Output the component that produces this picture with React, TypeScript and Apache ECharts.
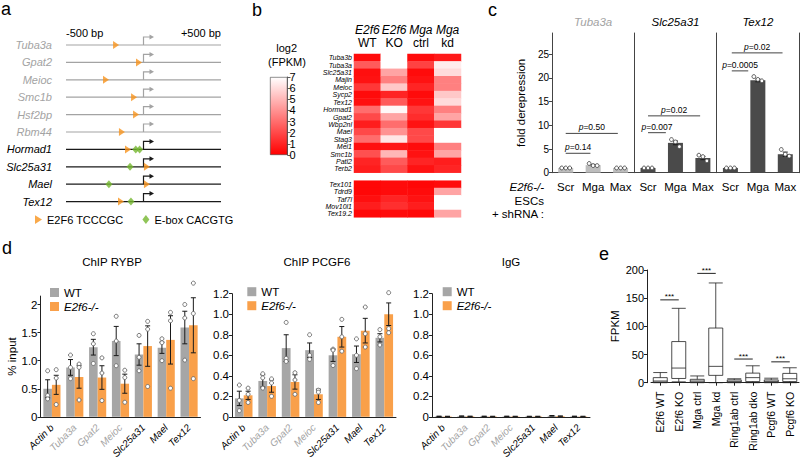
import React, { useEffect, useRef } from "react";
import * as echarts from "echarts";

const FF = '"Liberation Sans", Arial, Helvetica, sans-serif';
const GREY_TXT = "#a3a3a3";

// ---------- Panel a: promoter motif map ----------
const genesA = ["Tuba3a", "Gpat2", "Meioc", "Smc1b", "Hsf2bp", "Rbm44", "Hormad1", "Slc25a31", "Mael", "Tex12"];
const greyGenesA = ["Tuba3a", "Gpat2", "Meioc", "Smc1b", "Hsf2bp", "Rbm44"];
const bpRange = [-500, 500];
const bpTickLabels = ["-500 bp", "+500 bp"];
const motifNames = ["E2F6 TCCCGC", "E-box CACGTG"];
// [position (bp from TSS), gene row]
const e2f6Sites = [[-177, 0], [-29, 1], [-242, 2], [-61, 3], [-48, 4], [-139, 5], [-100, 6], [22, 7], [22, 8], [-145, 9]];
const eboxSites = [[-50, 6], [-25, 6], [-87, 7], [-223, 8], [-81, 9]];

// ---------- Panel b: heatmap log2(FPKM) ----------
const hmCols = ["E2f6 WT", "E2f6 KO", "Mga ctrl", "Mga kd"];
const hmRange = [0, 7];
const hmGenes1 = ["Tuba3b", "Tuba3a", "Slc25a31", "Majin", "Meioc", "Sycp2", "Tex12", "Hormad1", "Gpat2", "Wbp2nl", "Mael", "Stag3", "Mei1", "Smc1b", "Patl2", "Terb2"];
const hmWT1 = [0.3, 2.5, 0.4, 0.5, 1.5, 0.3, 0.4, 3.0, 2.0, 0.8, 2.0, 3.0, 0.4, 2.2, 1.0, 0.8];
const hmKO1 = [7.0, 7.0, 4.5, 3.5, 5.5, 1.0, 2.5, 6.8, 4.5, 3.0, 4.0, 6.3, 0.6, 5.0, 2.5, 2.0];
const hmCtrl1 = [0.3, 1.8, 0.3, 0.5, 1.0, 0.3, 0.5, 1.5, 1.2, 0.5, 2.0, 2.0, 0.3, 0.5, 1.0, 0.5];
const hmKd1 = [0.7, 6.5, 6.0, 3.5, 3.5, 5.5, 6.0, 3.5, 4.5, 1.5, 7.0, 7.0, 3.5, 4.5, 0.8, 1.0];
const hmGenes2 = ["Tex101", "Tdrd9", "Taf7l", "Mov10l1", "Tex19.2"];
const hmWT2 = [0.2, 0.2, 0.4, 0.8, 0.2];
const hmKO2 = [0.3, 0.3, 1.0, 1.3, 0.3];
const hmCtrl2 = [0.2, 0.3, 0.5, 0.8, 0.2];
const hmKd2 = [0.3, 4.5, 7.0, 7.0, 4.5];

// ---------- Panel c: fold derepression ----------
const cGenes = ["Tuba3a", "Slc25a31", "Tex12"];
const cConds = ["Scr", "Mga", "Max"];
const cTicks = [0, 5, 10, 15, 20, 25];
const cMax = 29.5;
const cMeans = [[1.0, 1.6, 1.0], [1.0, 6.3, 3.1], [1.0, 19.5, 3.9]];
const cSems = [[0.03, 0.15, 0.03], [0.05, 0.4, 0.35], [0.05, 0.3, 0.45]];
const cReps = [
  [[1.0, 1.0, 1.0], [1.95, 1.5, 1.5], [1.0, 1.0, 1.0]],
  [[1.0, 1.0, 1.0], [7.0, 6.5, 5.5], [3.7, 3.4, 2.5]],
  [[1.0, 1.0, 1.0], [20.3, 19.7, 19.4], [4.9, 3.9, 3.5]],
];
// p-value brackets: gene, from/to (category units), height, label
const cPvals = [
  { g: 0, from: 0, to: 0.9, y: 4.1, label: "0.14" },
  { g: 0, from: 0, to: 1.9, y: 8.3, label: "0.50" },
  { g: 1, from: 0, to: 0.65, y: 8.45, label: "0.007" },
  { g: 1, from: 0, to: 1.9, y: 12.0, label: "0.02" },
  { g: 2, from: 0.05, to: 0.65, y: 21.5, label: "0.0005" },
  { g: 2, from: 0.05, to: 1.9, y: 25.3, label: "0.02" },
];

// ---------- Panel d: ChIP-qPCR ----------
const dGenes = ["Actin b", "Tuba3a", "Gpat2", "Meioc", "Slc25a31", "Mael", "Tex12"];
const dGreyGenes = ["Tuba3a", "Gpat2", "Meioc"];
const dSeriesNames = ["WT", "E2f6-/-"];
const rybpWT = [0.50, 0.88, 1.24, 1.35, 1.11, 1.23, 1.59];
const rybpKO = [0.57, 0.71, 0.70, 0.59, 1.26, 1.37, 1.63];
const rybpWTsem = [0.16, 0.14, 0.14, 0.26, 0.19, 0.10, 0.29];
const rybpKOsem = [0.17, 0.20, 0.21, 0.17, 0.36, 0.43, 0.49];
const rybpWTreps = [[0.82, 0.38, 0.32], [1.10, 0.88, 0.68], [1.48, 1.30, 0.95], [1.79, 1.35, 0.91], [1.45, 1.06, 0.82], [1.39, 1.32, 1.00], [2.00, 1.76, 1.01]];
const rybpKOreps = [[0.84, 0.69, 0.22], [0.94, 0.88, 0.30], [1.05, 0.78, 0.29], [0.83, 0.70, 0.26], [1.70, 1.56, 0.54], [1.86, 1.71, 0.51], [2.38, 1.84, 0.68]];
const rybpTicks = [0, 0.5, 1, 1.5, 2];
const rybpTickLabels = ["0", "0.5", "1.0", "1.5", "2"];
const pcgfWT = [0.18, 0.35, 0.67, 0.65, 0.60, 0.61, 0.77];
const pcgfKO = [0.21, 0.30, 0.34, 0.22, 0.78, 0.84, 1.00];
const pcgfWTsem = [0.07, 0.06, 0.13, 0.07, 0.06, 0.08, 0.04];
const pcgfKOsem = [0.04, 0.06, 0.07, 0.05, 0.10, 0.12, 0.11];
const pcgfWTreps = [[0.31, 0.16, 0.06], [0.42, 0.38, 0.28], [0.92, 0.57, 0.54], [0.80, 0.60, 0.56], [0.66, 0.65, 0.50], [0.76, 0.60, 0.47], [0.85, 0.78, 0.70]];
const pcgfKOreps = [[0.28, 0.22, 0.14], [0.37, 0.33, 0.20], [0.43, 0.36, 0.22], [0.26, 0.24, 0.14], [0.95, 0.78, 0.64], [1.07, 0.81, 0.68], [1.21, 0.86, 0.82]];
const iggWT = [0.005, 0.007, 0.005, 0.005, 0.004, 0.010, 0.005];
const iggKO = [0.004, 0.005, 0.004, 0.004, 0.004, 0.007, 0.004];
const iggWTsem = [0.002, 0.002, 0.002, 0.002, 0.002, 0.003, 0.002];
const iggKOsem = [0.002, 0.002, 0.002, 0.002, 0.002, 0.002, 0.002];
const pcgfTicks = [0, 0.2, 0.4, 0.6, 0.8, 1.0, 1.2];
const pcgfTickLabels = ["0", "0.2", "0.4", "0.6", "0.8", "1.0", "1.2"];

// ---------- Panel e: FPKM box plots ----------
const eCats = ["E2f6 WT", "E2f6 KO", "Mga ctrl", "Mga kd", "Ring1ab ctrl", "Ring1ab dko", "Pcgf6 WT", "Pcgf6 KO"];
const eBoxes = [
  [0, 1, 3, 9, 18],
  [1.5, 7.5, 26, 73, 132],
  [0, 1, 3, 6, 12],
  [0, 13, 29, 97, 177],
  [0, 1, 2.5, 5, 7],
  [0, 2, 9, 17, 30],
  [0, 1, 2.5, 5, 8],
  [0, 2, 7, 16.5, 26.5],
];
const eSig = [[0, 1, 147], [2, 3, 194], [4, 5, 42], [6, 7, 37]];
const eSigLabel = "***";

// ---------- colours ----------
const C_ORANGE_MOTIF = "#f7941d";
const C_GREEN = "#74b72e";
const C_WT = "#a6a6a6";
const C_KO = "#f9a04a";
const C_DARK = "#4a4a4a";
const C_LIGHT = "#bdbdbd";

const RIGHT_TRIANGLE = "path://M0,0L8,5L0,10Z";

function txt(x: number, y: number, s: string, o: any = {}) {
  const al = o.align ?? "left";
  return {
    type: "text",
    x,
    y,
    silent: true,
    z: 10,
    style: {
      text: s,
      fill: o.color ?? "#000",
      fontSize: o.size ?? 11,
      fontFamily: FF,
      fontStyle: o.italic ? "italic" : "normal",
      align: al,
      verticalAlign: "middle",
      textAlign: al,
      textVerticalAlign: "middle",
    },
  };
}

function makeErrDots(offFrac: number, jitter: number[], dots: boolean, capW: number, r: number, dotStroke: string) {
  return (params: any, api: any) => {
    const i = api.value(0);
    const m = api.value(1);
    const s = api.value(2);
    const band = api.size([1, 0])[0];
    const p = api.coord([i, m]);
    const x = p[0] + offFrac * band;
    const yt = api.coord([i, m + s])[1];
    const yb = api.coord([i, Math.max(0, m - s)])[1];
    const ls = { stroke: "#1a1a1a", lineWidth: 1 };
    const children: any[] = [
      { type: "line", shape: { x1: x, y1: yt, x2: x, y2: yb }, style: ls },
      { type: "line", shape: { x1: x - capW, y1: yt, x2: x + capW, y2: yt }, style: ls },
      { type: "line", shape: { x1: x - capW, y1: yb, x2: x + capW, y2: yb }, style: ls },
    ];
    if (dots) {
      for (let k = 0; k < 3; k++) {
        const v = api.value(3 + k);
        if (v == null || isNaN(v)) continue;
        const py = api.coord([i, v])[1];
        children.push({
          type: "circle",
          shape: { cx: x + jitter[k], cy: py, r },
          style: { fill: "#fff", stroke: dotStroke, lineWidth: 0.9 },
        });
      }
    }
    return { type: "group", children };
  };
}

function buildOption(): any {
  const grid: any[] = [];
  const xAxis: any[] = [];
  const yAxis: any[] = [];
  const series: any[] = [];
  const legend: any[] = [];
  const graphic: any[] = [];
  const noAxis = { axisLine: { show: false }, axisTick: { show: false }, splitLine: { show: false } };

  // panel letters
  graphic.push(
    txt(1, 9, "a", { size: 18 }),
    txt(252, 10, "b", { size: 18 }),
    txt(488, 10, "c", { size: 18 }),
    txt(2, 247.5, "d", { size: 18 }),
    txt(599, 253.5, "e", { size: 18 })
  );

  // ================= Panel a =================
  {
    const gi = grid.length;
    grid.push({ left: 66, top: 36.3, width: 155, height: 174 });
    const xi = xAxis.length;
    xAxis.push({
      gridIndex: gi,
      type: "value",
      min: bpRange[0],
      max: bpRange[1],
      interval: bpRange[1] - bpRange[0],
      position: "top",
      ...noAxis,
      axisLabel: {
        margin: -2,
        fontSize: 11,
        color: "#000",
        fontFamily: FF,
        formatter: (v: number) => (v < 0 ? bpTickLabels[0] : bpTickLabels[1]),
        alignMinLabel: "left",
        alignMaxLabel: "right",
      },
    });
    const yi = yAxis.length;
    yAxis.push({
      gridIndex: gi,
      type: "category",
      inverse: true,
      data: genesA.map((g) => ({ value: g, textStyle: { color: greyGenesA.includes(g) ? GREY_TXT : "#000" } })),
      ...noAxis,
      axisLabel: { margin: 14, fontSize: 11, fontStyle: "italic", fontFamily: FF, interval: 0 },
    });
    series.push({
      type: "custom",
      xAxisIndex: xi,
      yAxisIndex: yi,
      silent: true,
      z: 1,
      encode: { x: 0, y: 1 },
      data: genesA.map((g, i) => [bpRange[0], i, greyGenesA.includes(g) ? 1 : 0]),
      renderItem: (params: any, api: any) => {
        const row = api.value(1);
        const grey = api.value(2) === 1;
        const a = api.coord([bpRange[0], row]);
        const b = api.coord([bpRange[1], row]);
        const t = api.coord([0, row]);
        const col = grey ? "#a3a3a3" : "#1a1a1a";
        const y = a[1];
        const tx = t[0];
        return {
          type: "group",
          children: [
            { type: "line", shape: { x1: a[0], y1: y, x2: b[0], y2: y }, style: { stroke: col, lineWidth: 1.2 } },
            { type: "polyline", shape: { points: [[tx, y], [tx, y - 8], [tx + 7, y - 8]] }, style: { stroke: col, fill: "none", lineWidth: 1.2 } },
            { type: "polygon", shape: { points: [[tx + 6, y - 10.5], [tx + 10.5, y - 8], [tx + 6, y - 5.5]] }, style: { fill: col } },
          ],
        };
      },
    });
    series.push({
      type: "scatter",
      name: motifNames[0],
      xAxisIndex: xi,
      yAxisIndex: yi,
      data: e2f6Sites,
      symbol: RIGHT_TRIANGLE,
      symbolSize: [6, 8],
      itemStyle: { color: C_ORANGE_MOTIF },
      z: 5,
    });
    series.push({
      type: "scatter",
      name: motifNames[1],
      xAxisIndex: xi,
      yAxisIndex: yi,
      data: eboxSites,
      symbol: "diamond",
      symbolSize: [7, 8],
      itemStyle: { color: C_GREEN },
      z: 6,
    });
    legend.push({
      data: motifNames,
      left: 35,
      top: 214,
      orient: "horizontal",
      itemWidth: 7,
      itemHeight: 9,
      itemGap: 19,
      padding: 0,
      selectedMode: false,
      textStyle: { fontSize: 11, fontFamily: FF, color: "#000" },
    });
  }

  // ================= Panel b =================
  const hmSeriesIdx: number[] = [];
  {
    const groups = [
      { genes: hmGenes1, cols: [hmWT1, hmKO1, hmCtrl1, hmKd1], top: 54, height: 118.7, header: true },
      { genes: hmGenes2, cols: [hmWT2, hmKO2, hmCtrl2, hmKd2], top: 180.7, height: 36.6, header: false },
    ];
    groups.forEach((gr) => {
      const gi = grid.length;
      grid.push({ left: 354, top: gr.top, width: 107, height: gr.height });
      const xi = xAxis.length;
      xAxis.push({
        gridIndex: gi,
        type: "category",
        data: hmCols,
        position: "top",
        show: gr.header,
        ...noAxis,
        axisLabel: {
          margin: 4,
          interval: 0,
          formatter: (v: string) => {
            const [a, b] = v.split(" ");
            return `{i|${a}}\n{n|${b}}`;
          },
          rich: {
            i: { fontStyle: "italic", fontSize: 12, fontFamily: FF, lineHeight: 13.5, color: "#000" },
            n: { fontSize: 12, fontFamily: FF, lineHeight: 13.5, color: "#000" },
          },
        },
      });
      const yi = yAxis.length;
      yAxis.push({
        gridIndex: gi,
        type: "category",
        data: gr.genes,
        inverse: true,
        ...noAxis,
        axisLabel: { margin: 2, fontSize: 7, lineHeight: 7, fontStyle: "italic", fontFamily: FF, color: "#000", interval: 0 },
      });
      const data: number[][] = [];
      gr.cols.forEach((col, c) => col.forEach((v, r) => data.push([c, r, v])));
      hmSeriesIdx.push(series.length);
      series.push({ type: "heatmap", xAxisIndex: xi, yAxisIndex: yi, data, silent: true, itemStyle: { borderWidth: 0 } });
    });

    // colour bar
    const gi = grid.length;
    grid.push({ left: 270, top: 77, width: 17.5, height: 78 });
    const xi = xAxis.length;
    xAxis.push({ gridIndex: gi, type: "category", data: ["log2 (FPKM)"], show: false });
    const yi = yAxis.length;
    yAxis.push({
      gridIndex: gi,
      type: "value",
      min: hmRange[0],
      max: hmRange[1],
      interval: 1,
      position: "right",
      axisLine: { show: true, lineStyle: { color: "#333", width: 0.8 } },
      axisTick: { show: true, length: 3, lineStyle: { color: "#333", width: 0.8 } },
      splitLine: { show: false },
      axisLabel: { margin: 2, fontSize: 11, fontFamily: FF, color: "#000" },
    });
    series.push({
      type: "bar",
      xAxisIndex: xi,
      yAxisIndex: yi,
      data: [hmRange[1]],
      barWidth: "100%",
      silent: true,
      itemStyle: {
        color: new echarts.graphic.LinearGradient(0, 0, 0, 1, [
          { offset: 0, color: "#ffffff" },
          { offset: 1, color: "#ff0000" },
        ]),
        borderColor: "#444",
        borderWidth: 0.6,
      },
    });
    graphic.push(txt(286.7, 48, "log2", { size: 11, align: "center" }), txt(287, 61.7, "(FPKM)", { size: 11, align: "center" }));
  }

  // ================= Panel c =================
  {
    const lefts = [552, 634.3, 716.7];
    const w = 82.3;
    const top = 33;
    const h = 139.7;
    cGenes.forEach((g, k) => {
      const gi = grid.length;
      grid.push({ left: lefts[k], top, width: w, height: h });
      const xi = xAxis.length;
      xAxis.push({
        gridIndex: gi,
        type: "category",
        data: cConds,
        axisLine: { show: true, lineStyle: { color: "#444", width: 1 } },
        axisTick: { show: false },
        splitLine: { show: false },
        axisLabel: { margin: 8, fontSize: 11.5, fontFamily: FF, color: "#000", interval: 0 },
      });
      const yi = yAxis.length;
      yAxis.push({
        gridIndex: gi,
        type: "value",
        min: 0,
        max: cMax,
        axisLine: { show: true, lineStyle: { color: "#444", width: 1 } },
        splitLine: { show: false },
        axisTick: { show: k === 0, length: 3, customValues: cTicks, lineStyle: { color: "#444" } },
        axisLabel: { show: k === 0, customValues: cTicks, fontSize: 10, margin: 3, fontFamily: FF, color: "#000" },
        name: k === 0 ? "fold derepression" : "",
        nameLocation: "middle",
        nameGap: 25,
        nameTextStyle: { fontSize: 11.5, fontFamily: FF, color: "#000" },
      });
      if (k === cGenes.length - 1) {
        yAxis.push({
          gridIndex: gi,
          type: "value",
          min: 0,
          max: cMax,
          position: "right",
          axisLine: { show: true, lineStyle: { color: "#444", width: 1 } },
          axisTick: { show: false },
          axisLabel: { show: false },
          splitLine: { show: false },
        });
      }
      series.push({
        type: "bar",
        xAxisIndex: xi,
        yAxisIndex: yi,
        data: cMeans[k],
        barWidth: 15,
        silent: true,
        itemStyle: { color: k === 0 ? C_LIGHT : C_DARK },
      });
      series.push({
        type: "custom",
        xAxisIndex: xi,
        yAxisIndex: yi,
        silent: true,
        z: 4,
        encode: { x: 0, y: 1 },
        data: cMeans[k].map((m, i) => [i, m, cSems[k][i], ...cReps[k][i]]),
        renderItem: makeErrDots(0, [-4, 0, 4], true, 2.5, 1.9, "#444"),
      });
      const list = cPvals.filter((p) => p.g === k);
      series.push({
        type: "custom",
        xAxisIndex: xi,
        yAxisIndex: yi,
        silent: true,
        z: 5,
        encode: { x: 0, y: 1 },
        data: list.map((p) => [0, p.y]),
        renderItem: (params: any, api: any) => {
          const d = list[params.dataIndex];
          const base = api.coord([0, d.y]);
          const band = api.size([1, 0])[0];
          const x1 = base[0] + d.from * band;
          const x2 = base[0] + d.to * band;
          const y = base[1];
          return {
            type: "group",
            children: [
              { type: "line", shape: { x1, y1: y, x2, y2: y }, style: { stroke: "#444", lineWidth: 1 } },
              {
                type: "text",
                x: (x1 + x2) / 2,
                y: y - 1.5,
                style: {
                  text: `{i|p}{n|=${d.label}}`,
                  fill: "#000",
                  fontSize: 8.5,
                  fontFamily: FF,
                  align: "center",
                  verticalAlign: "bottom",
                  textAlign: "center",
                  textVerticalAlign: "bottom",
                  rich: {
                    i: { fontStyle: "italic", fontSize: 8.5, fontFamily: FF, fill: "#000", color: "#000" },
                    n: { fontSize: 8.5, fontFamily: FF, fill: "#000", color: "#000" },
                  },
                },
              },
            ],
          };
        },
      });
      graphic.push(txt(lefts[k] + w / 2, 21.7, g, { italic: true, align: "center", size: 11.5, color: k === 0 ? GREY_TXT : "#000" }));
    });
    graphic.push(
      txt(544, 187, "E2f6-/-", { italic: true, align: "right", size: 11.5 }),
      txt(544, 201, "ESCs", { align: "right", size: 11.5 }),
      txt(544, 214, "+ shRNA :", { align: "right", size: 11.5 })
    );
  }

  // ================= Panel d =================
  {
    const bottom = 419.7;
    const panels = [
      {
        title: "ChIP RYBP", titleX: 112, left: 40.5, width: 160, max: 2.15, ticks: rybpTicks, tickLabels: rybpTickLabels,
        wt: rybpWT, ko: rybpKO, wtSem: rybpWTsem, koSem: rybpKOsem, wtReps: rybpWTreps, koReps: rybpKOreps,
        legLeft: 50, legTop: 286.5, dots: true,
      },
      {
        title: "ChIP PCGF6", titleX: 317, left: 232, width: 164, max: 1.2, ticks: pcgfTicks, tickLabels: pcgfTickLabels,
        wt: pcgfWT, ko: pcgfKO, wtSem: pcgfWTsem, koSem: pcgfKOsem, wtReps: pcgfWTreps, koReps: pcgfKOreps,
        legLeft: 247.3, legTop: 285.7, dots: true,
      },
      {
        title: "IgG", titleX: 511, left: 432, width: 158, max: 1.2, ticks: pcgfTicks, tickLabels: pcgfTickLabels,
        wt: iggWT, ko: iggKO, wtSem: iggWTsem, koSem: iggKOsem, wtReps: null as any, koReps: null as any,
        legLeft: 442.7, legTop: 285.7, dots: false,
      },
    ];
    const pxPerUnitR = 57.5;
    panels.forEach((P, k) => {
      const h = k === 0 ? P.max * pxPerUnitR : 126;
      const gi = grid.length;
      grid.push({ left: P.left, top: bottom - h, width: P.width, height: h });
      const xi = xAxis.length;
      xAxis.push({
        gridIndex: gi,
        type: "category",
        data: dGenes.map((g) => ({ value: g, textStyle: { color: dGreyGenes.includes(g) ? GREY_TXT : "#000" } })),
        axisLine: { show: true, lineStyle: { color: "#222", width: 1 } },
        axisTick: { show: false },
        splitLine: { show: false },
        axisLabel: { rotate: 45, margin: 9, fontSize: 10, fontStyle: "italic", fontFamily: FF, interval: 0 },
      });
      const yi = yAxis.length;
      yAxis.push({
        gridIndex: gi,
        type: "value",
        min: 0,
        max: P.max,
        axisLine: { show: true, lineStyle: { color: "#222", width: 1 } },
        axisTick: { show: true, length: 3, customValues: P.ticks, lineStyle: { color: "#222" } },
        splitLine: { show: false },
        axisLabel: {
          customValues: P.ticks,
          margin: 3,
          fontSize: 11.5,
          fontFamily: FF,
          color: "#000",
          formatter: (v: number) => {
            const idx = P.ticks.findIndex((t) => Math.abs(t - v) < 1e-6);
            return idx >= 0 ? P.tickLabels[idx] : "";
          },
        },
        name: k === 0 ? "% input" : "",
        nameLocation: "middle",
        nameGap: 22,
        nameTextStyle: { fontSize: 11.5, fontFamily: FF, color: "#000" },
      });
      series.push({
        type: "bar",
        name: dSeriesNames[0],
        xAxisIndex: xi,
        yAxisIndex: yi,
        data: P.wt,
        barGap: "0%",
        barCategoryGap: "25%",
        silent: true,
        itemStyle: { color: C_WT },
      });
      series.push({
        type: "bar",
        name: dSeriesNames[1],
        xAxisIndex: xi,
        yAxisIndex: yi,
        data: P.ko,
        barGap: "0%",
        barCategoryGap: "25%",
        silent: true,
        itemStyle: { color: C_KO },
      });
      [
        { vals: P.wt, sem: P.wtSem, reps: P.wtReps, off: -0.1875 },
        { vals: P.ko, sem: P.koSem, reps: P.koReps, off: 0.1875 },
      ].forEach((S) => {
        series.push({
          type: "custom",
          xAxisIndex: xi,
          yAxisIndex: yi,
          silent: true,
          z: 4,
          encode: { x: 0, y: 1 },
          data: S.vals.map((m: number, i: number) => [i, m, S.sem[i], ...(S.reps ? S.reps[i] : [NaN, NaN, NaN])]),
          renderItem: makeErrDots(S.off, [0, 0, 0], P.dots, 2.5, 2, "#666"),
        });
      });
      legend.push({
        data: [{ name: dSeriesNames[0] }, { name: dSeriesNames[1], textStyle: { fontStyle: "italic" } }],
        orient: "vertical",
        left: P.legLeft,
        top: P.legTop,
        itemWidth: 9,
        itemHeight: 9,
        itemGap: 2,
        padding: 0,
        icon: "rect",
        selectedMode: false,
        textStyle: { fontSize: 11.5, fontFamily: FF, color: "#000", lineHeight: 10 },
      });
      graphic.push(txt(P.titleX, 261.5, P.title, { align: "center", size: 11.5 }));
    });
  }

  // ================= Panel e =================
  {
    const gi = grid.length;
    grid.push({ left: 651, top: 270, width: 148, height: 112.7 });
    const xi = xAxis.length;
    xAxis.push({
      gridIndex: gi,
      type: "category",
      data: eCats,
      offset: 4,
      axisLine: { show: true, lineStyle: { color: "#222", width: 1 } },
      axisTick: { show: true, alignWithLabel: true, length: 3, lineStyle: { color: "#222" } },
      splitLine: { show: false },
      axisLabel: { rotate: 90, margin: 5, fontSize: 10.5, fontFamily: FF, color: "#000", interval: 0 },
    });
    const yi = yAxis.length;
    yAxis.push({
      gridIndex: gi,
      type: "value",
      min: 0,
      max: 200,
      interval: 50,
      offset: 4,
      axisLine: { show: true, lineStyle: { color: "#222", width: 1 } },
      axisTick: { show: true, length: 3, lineStyle: { color: "#222" } },
      splitLine: { show: false },
      axisLabel: { margin: 3, fontSize: 11, fontFamily: FF, color: "#000" },
      name: "FPKM",
      nameLocation: "middle",
      nameGap: 26,
      nameTextStyle: { fontSize: 11.5, fontFamily: FF, color: "#000" },
    });
    series.push({
      type: "boxplot",
      xAxisIndex: xi,
      yAxisIndex: yi,
      data: eBoxes,
      boxWidth: [14, 14],
      silent: true,
      itemStyle: { color: "#fff", borderColor: "#222", borderWidth: 0.8 },
    });
    series.push({
      type: "custom",
      xAxisIndex: xi,
      yAxisIndex: yi,
      silent: true,
      z: 5,
      encode: { x: 0, y: 2 },
      data: eSig,
      renderItem: (params: any, api: any) => {
        const a = api.coord([api.value(0), api.value(2)]);
        const b = api.coord([api.value(1), api.value(2)]);
        return {
          type: "group",
          children: [
            { type: "line", shape: { x1: a[0], y1: a[1], x2: b[0], y2: b[1] }, style: { stroke: "#222", lineWidth: 1 } },
            {
              type: "text",
              x: (a[0] + b[0]) / 2,
              y: a[1] + 1,
              style: {
                text: eSigLabel,
                fill: "#000",
                fontSize: 8,
                fontFamily: FF,
                align: "center",
                verticalAlign: "bottom",
                textAlign: "center",
                textVerticalAlign: "bottom",
              },
            },
          ],
        };
      },
    });
  }

  return {
    animation: false,
    backgroundColor: "#ffffff",
    textStyle: { fontFamily: FF },
    grid,
    xAxis,
    yAxis,
    legend,
    visualMap: [
      {
        type: "continuous",
        show: false,
        min: hmRange[0],
        max: hmRange[1],
        seriesIndex: hmSeriesIdx,
        inRange: { color: ["#ff0000", "#ffffff"] },
      },
    ],
    series,
    graphic: { elements: graphic },
  };
}

export default function App() {
  const ref = useRef<HTMLDivElement>(null);
  useEffect(() => {
    if (!ref.current) return;
    const chart = echarts.init(ref.current, null, { renderer: "svg" });
    chart.setOption(buildOption());
    return () => chart.dispose();
  }, []);
  return (
    <div
      ref={ref}
      style={{ position: "absolute", left: 0, top: 0, width: 800, height: 461, background: "#fff" }}
    />
  );
}
